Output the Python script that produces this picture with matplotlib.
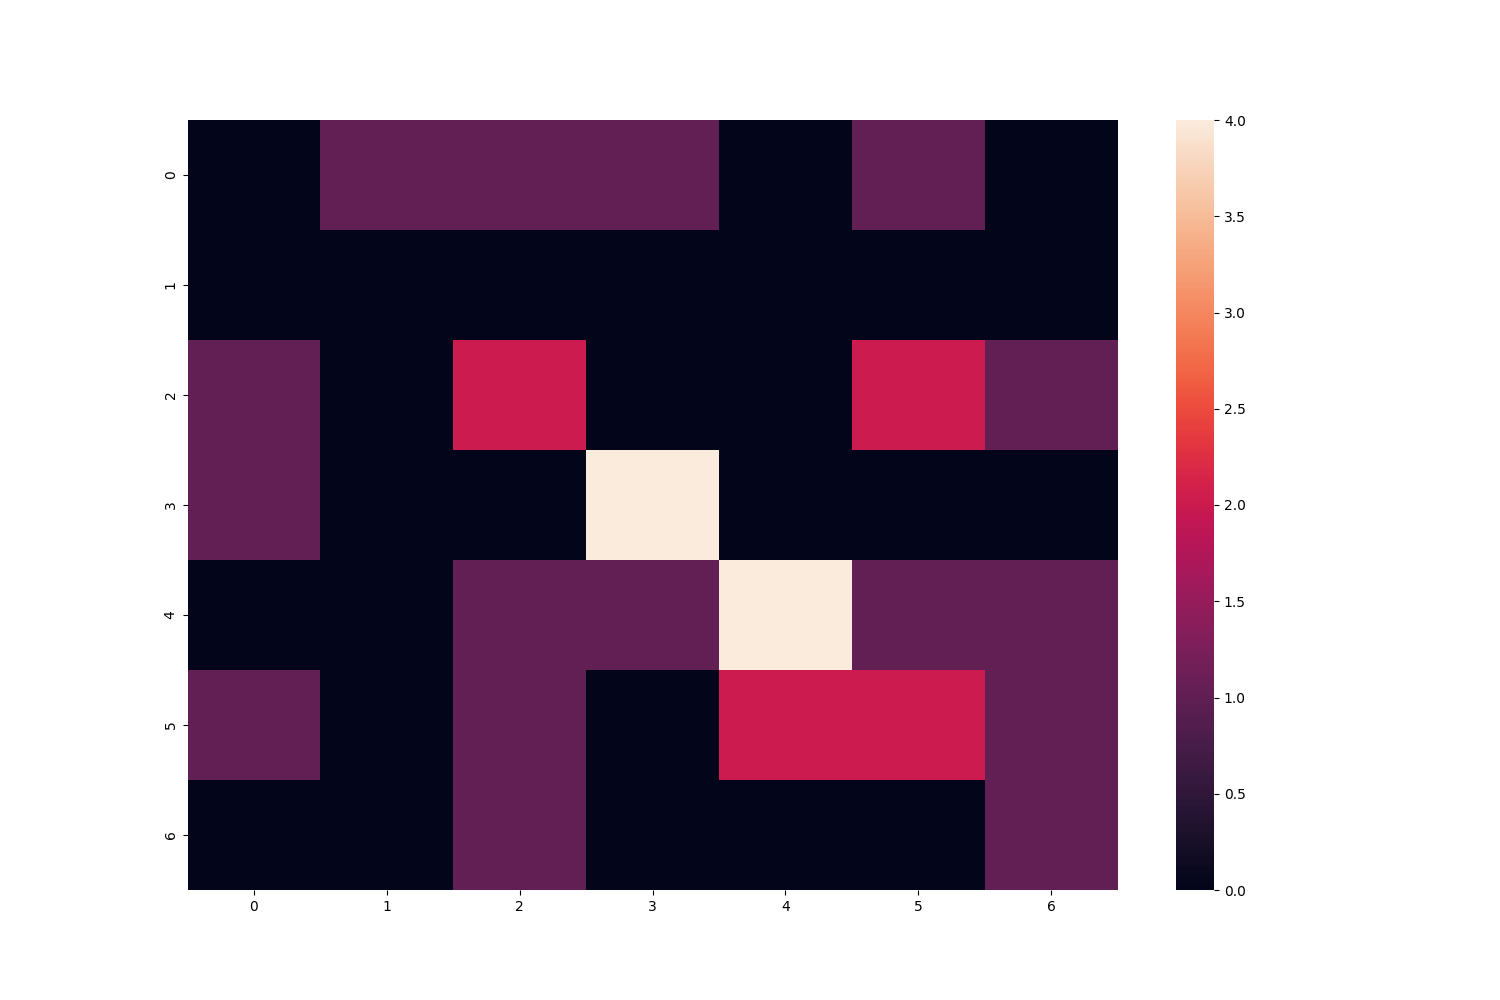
import numpy as np
import matplotlib
matplotlib.use("Agg")
import matplotlib.pyplot as plt
import seaborn as sns

# 7x7 count matrix
row0 = [0, 1, 1, 1, 0, 1, 0]
row1 = [0, 0, 0, 0, 0, 0, 0]
row2 = [1, 0, 2, 0, 0, 2, 1]
row3 = [1, 0, 0, 4, 0, 0, 0]
row4 = [0, 0, 1, 1, 4, 1, 1]
row5 = [1, 0, 1, 0, 2, 2, 1]
row6 = [0, 0, 1, 0, 0, 0, 1]

data = np.array([row0, row1, row2, row3, row4, row5, row6])

fig = plt.figure(figsize=(15, 10), dpi=100)
ax = sns.heatmap(data)

fig.savefig("out.png", dpi=100)
